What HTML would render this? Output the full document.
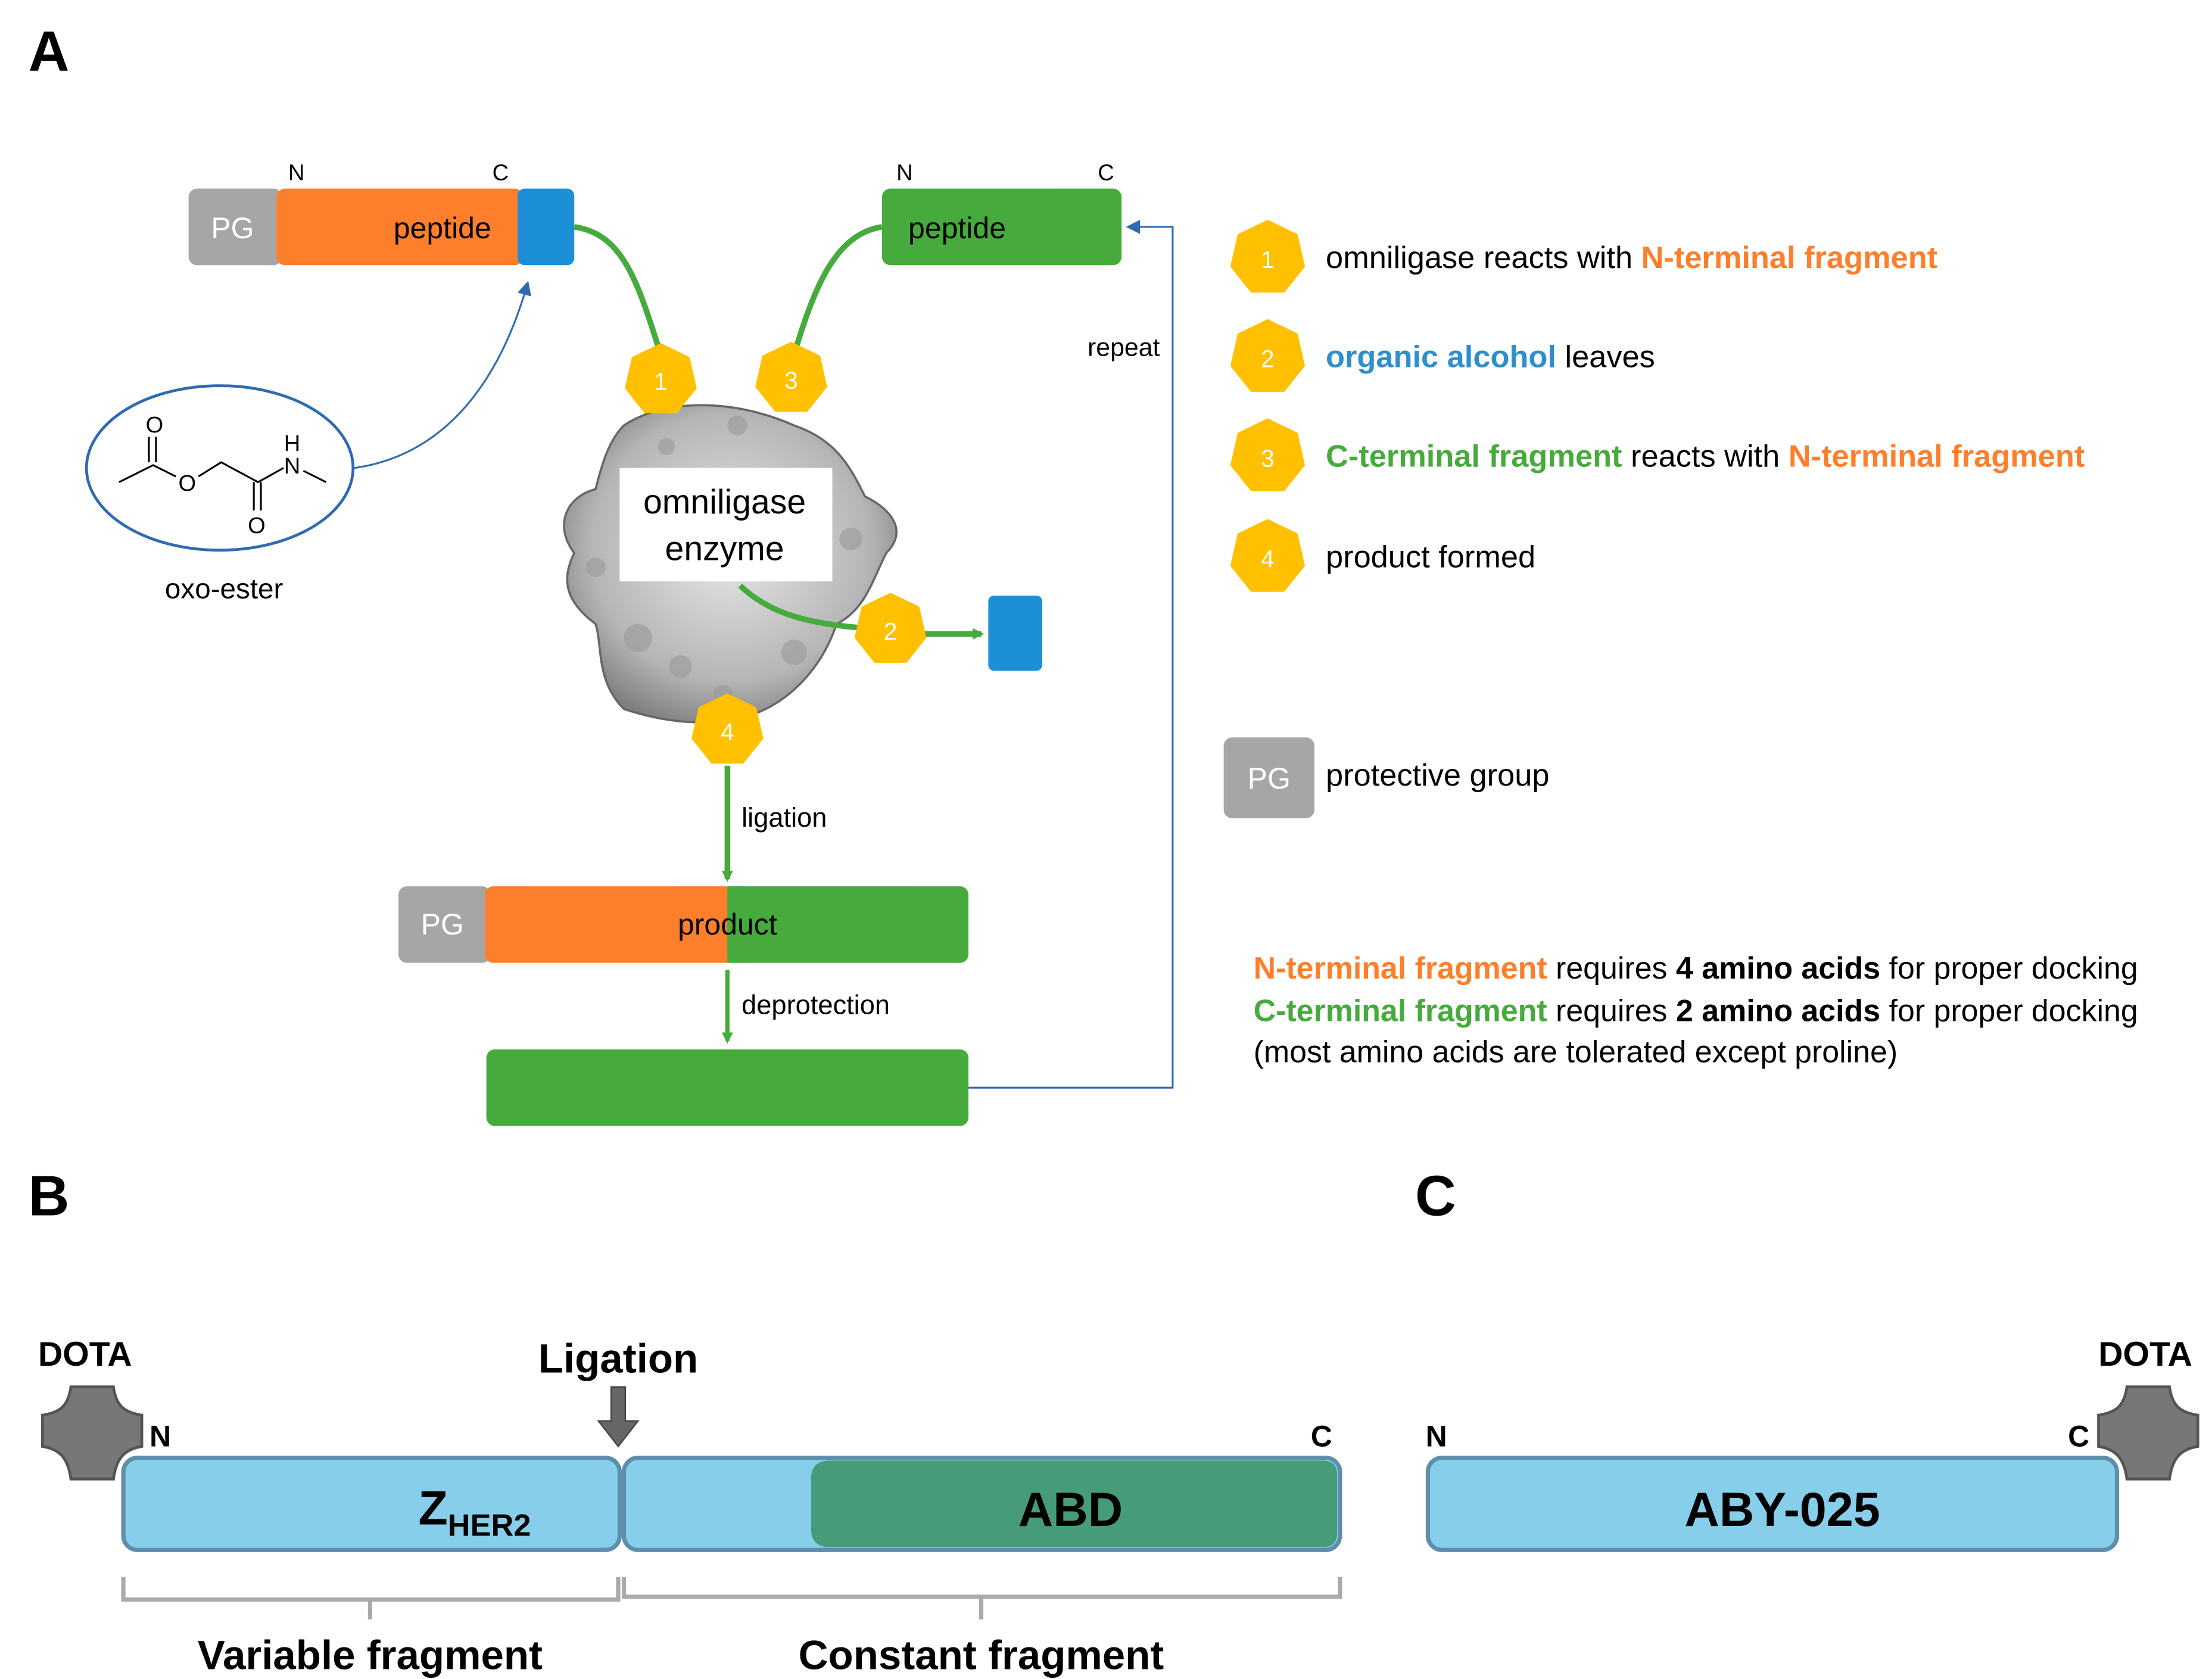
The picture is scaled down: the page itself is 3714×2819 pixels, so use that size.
<!DOCTYPE html>
<html><head><meta charset="utf-8"><style>
html,body{margin:0;padding:0;background:#fff}
svg{display:block}
text{font-family:"Liberation Sans",sans-serif}
</style></head><body>
<svg width="3714" height="2819" viewBox="0 0 1560 1184" preserveAspectRatio="none" xmlns="http://www.w3.org/2000/svg">
<defs>
<polygon id="hep" points="0,-1 0.782,-0.623 0.975,0.223 0.434,0.901 -0.434,0.901 -0.975,0.223 -0.782,-0.623" fill="#ffc000"/>
<radialGradient id="eg" cx="0.5" cy="0.45" r="0.6"><stop offset="0" stop-color="#e8e8e8"/><stop offset="0.7" stop-color="#b5b5b5"/><stop offset="1" stop-color="#7a7a7a"/></radialGradient>
<marker id="ga" markerWidth="8" markerHeight="8" refX="6" refY="4" orient="auto" markerUnits="userSpaceOnUse"><path d="M0,0 L8,4 L0,8 z" fill="#46ab3c"/></marker>
<marker id="ba" markerWidth="10" markerHeight="10" refX="8" refY="5" orient="auto" markerUnits="userSpaceOnUse"><path d="M0,0 L10,5 L0,10 z" fill="#2e6bb0"/></marker>
</defs>

<text x="20" y="50" font-size="40" font-weight="bold">A</text>
<text x="20" y="857" font-size="40" font-weight="bold">B</text>
<text x="998" y="857" font-size="40" font-weight="bold">C</text>

<rect x="133" y="133" width="66" height="54" rx="6" fill="#a6a6a6"/>
<rect x="195" y="133" width="174" height="54" rx="6" fill="#fd7f2b"/>
<rect x="365" y="133" width="40" height="54" rx="5" fill="#1c8fd6"/>
<text x="164" y="168" font-size="21" fill="#fff" text-anchor="middle">PG</text>
<text x="312" y="168" font-size="21" text-anchor="middle">peptide</text>
<text x="209" y="127" font-size="16" text-anchor="middle">N</text>
<text x="353" y="127" font-size="16" text-anchor="middle">C</text>

<rect x="622" y="133" width="169" height="54" rx="6" fill="#46ab3c"/>
<text x="675" y="168" font-size="21" text-anchor="middle">peptide</text>
<text x="638" y="127" font-size="16" text-anchor="middle">N</text>
<text x="780" y="127" font-size="16" text-anchor="middle">C</text>

<path d="M405,160 C440,165 450,200 466,250" fill="none" stroke="#46ab3c" stroke-width="4"/>
<path d="M622,160 C590,165 575,200 560,250" fill="none" stroke="#46ab3c" stroke-width="4"/>

<path d="M440,300 C470,280 520,282 560,300 C590,310 600,330 610,350 C630,360 640,375 625,390 C615,410 610,430 590,440 C580,470 560,490 540,500 C510,515 470,510 440,500 C420,480 425,455 420,440 C400,425 395,410 405,390 C390,370 400,350 420,345 C425,325 430,310 440,300 z" fill="url(#eg)" stroke="#666" stroke-width="1.5"/>
<g fill="#9a9a9a" opacity="0.6">
<circle cx="450" cy="450" r="10"/><circle cx="480" cy="470" r="8"/><circle cx="560" cy="460" r="9"/><circle cx="420" cy="400" r="7"/><circle cx="600" cy="380" r="8"/><circle cx="520" cy="300" r="7"/><circle cx="470" cy="315" r="6"/><circle cx="510" cy="490" r="7"/>
</g>
<rect x="437" y="330" width="150" height="80" fill="#fff"/>
<text x="511" y="362" font-size="24" text-anchor="middle">omniligase</text>
<text x="511" y="395" font-size="24" text-anchor="middle">enzyme</text>

<path d="M522,413 C545,435 575,440 610,443" fill="none" stroke="#46ab3c" stroke-width="4"/>
<line x1="640" y1="447" x2="692" y2="447" stroke="#46ab3c" stroke-width="4" marker-end="url(#ga)"/>
<rect x="697" y="420" width="38" height="53" rx="4" fill="#1c8fd6"/>

<use href="#hep" transform="translate(466,268) scale(26)"/>
<use href="#hep" transform="translate(558,267) scale(26)"/>
<use href="#hep" transform="translate(628,444) scale(26)"/>
<use href="#hep" transform="translate(513,515) scale(26)"/>
<g font-size="17" fill="#fff" text-anchor="middle">
<text x="466" y="275">1</text><text x="558" y="274">3</text><text x="628" y="451">2</text><text x="513" y="522">4</text>
</g>

<ellipse cx="155" cy="330" rx="94" ry="58" fill="none" stroke="#2e6bb0" stroke-width="2"/>
<g stroke="#000" stroke-width="1.3" fill="none">
<path d="M84,340 L108,328 L124,336"/>
<path d="M105,308 L105,326 M110,308 L110,326"/>
<path d="M140,336 L156,326 L182,340 L200,330"/>
<path d="M179,340 L179,360 M184,340 L184,360"/>
<path d="M214,332 L230,340"/>
</g>
<text x="109" y="305" font-size="16" text-anchor="middle">O</text>
<text x="132" y="346" font-size="16" text-anchor="middle">O</text>
<text x="181" y="376" font-size="16" text-anchor="middle">O</text>
<text x="206" y="318" font-size="16" text-anchor="middle">H</text>
<text x="206" y="334" font-size="16" text-anchor="middle">N</text>
<text x="158" y="422" font-size="20" text-anchor="middle">oxo-ester</text>
<path d="M250,330 C320,320 355,260 372,200" fill="none" stroke="#2e6bb0" stroke-width="1.3" marker-end="url(#ba)"/>

<line x1="513" y1="540" x2="513" y2="620" stroke="#46ab3c" stroke-width="4" marker-end="url(#ga)"/>
<text x="523" y="583" font-size="19">ligation</text>

<rect x="281" y="625" width="65" height="54" rx="6" fill="#a6a6a6"/>
<rect x="342" y="625" width="176" height="54" rx="6" fill="#fd7f2b"/>
<rect x="513" y="625" width="170" height="54" rx="6" fill="#46ab3c"/>
<rect x="513" y="625" width="10" height="54" fill="#46ab3c"/>
<text x="312" y="659" font-size="21" fill="#fff" text-anchor="middle">PG</text>
<text x="513" y="659" font-size="21" text-anchor="middle">product</text>

<line x1="513" y1="684" x2="513" y2="734" stroke="#46ab3c" stroke-width="3" marker-end="url(#ga)"/>
<text x="523" y="715" font-size="19">deprotection</text>
<rect x="343" y="740" width="340" height="54" rx="6" fill="#46ab3c"/>

<path d="M683,767 L827,767 L827,160 L796,160" fill="none" stroke="#2e6bb0" stroke-width="1.3" marker-end="url(#ba)"/>
<text x="818" y="251" font-size="18" text-anchor="end">repeat</text>

<use href="#hep" transform="translate(894,182) scale(27)"/>
<use href="#hep" transform="translate(894,252) scale(27)"/>
<use href="#hep" transform="translate(894,322) scale(27)"/>
<use href="#hep" transform="translate(894,393) scale(27)"/>
<g font-size="17" fill="#fff" text-anchor="middle">
<text x="894" y="189">1</text><text x="894" y="259">2</text><text x="894" y="329">3</text><text x="894" y="400">4</text>
</g>
<g font-size="22">
<text x="935" y="189">omniligase reacts with <tspan fill="#fd7f2b" font-weight="bold">N-terminal fragment</tspan></text>
<text x="935" y="259"><tspan fill="#2e8fce" font-weight="bold">organic alcohol</tspan> leaves</text>
<text x="935" y="329"><tspan fill="#46ab3c" font-weight="bold">C-terminal fragment</tspan> reacts with <tspan fill="#fd7f2b" font-weight="bold">N-terminal fragment</tspan></text>
<text x="935" y="400">product formed</text>
<text x="935" y="554">protective group</text>
</g>
<rect x="863" y="520" width="64" height="57" rx="6" fill="#a6a6a6"/>
<text x="895" y="556" font-size="21" fill="#fff" text-anchor="middle">PG</text>
<g font-size="21.8">
<text x="884" y="690"><tspan fill="#fd7f2b" font-weight="bold">N-terminal fragment</tspan> requires <tspan font-weight="bold">4 amino acids</tspan> for proper docking</text>
<text x="884" y="720"><tspan fill="#46ab3c" font-weight="bold">C-terminal fragment</tspan> requires <tspan font-weight="bold">2 amino acids</tspan> for proper docking</text>
<text x="884" y="749">(most amino acids are tolerated except proline)</text>
</g>

<text x="60" y="963" font-size="24" font-weight="bold" text-anchor="middle">DOTA</text>
<path d="M50,978 L80,978 C82,992 88,996 100,998 L100,1020 C88,1022 82,1028 80,1043 L50,1043 C48,1028 42,1022 30,1020 L30,998 C42,996 48,992 50,978 z" fill="#777" stroke="#555" stroke-width="2"/>
<text x="113" y="1020" font-size="21" font-weight="bold" text-anchor="middle">N</text>
<rect x="87" y="1028" width="350" height="65" rx="10" fill="#87ceeb" stroke="#5d8eab" stroke-width="3"/>
<text x="295" y="1075" font-size="34" font-weight="bold">Z<tspan font-size="22" dy="8">HER2</tspan></text>
<rect x="440" y="1028" width="505" height="65" rx="10" fill="#87ceeb" stroke="#5d8eab" stroke-width="3"/>
<path d="M585,1030 L933,1030 Q943,1030 943,1040 L943,1081 Q943,1091 933,1091 L585,1091 Q572,1091 572,1078 L572,1043 Q572,1030 585,1030 z" fill="#469c78"/>
<text x="755" y="1076" font-size="34" font-weight="bold" text-anchor="middle">ABD</text>
<text x="436" y="968" font-size="29" font-weight="bold" text-anchor="middle">Ligation</text>
<path d="M431,978 L441,978 L441,1002 L450,1002 L436,1020 L422,1002 L431,1002 z" fill="#666" stroke="#444" stroke-width="1"/>
<text x="932" y="1020" font-size="21" font-weight="bold" text-anchor="middle">C</text>
<g fill="none" stroke="#aaa" stroke-width="3">
<path d="M87,1112 L87,1128 L436,1128 L436,1112 M261,1128 L261,1142"/>
<path d="M440,1112 L440,1126 L945,1126 L945,1112 M692,1126 L692,1142"/>
</g>
<text x="261" y="1177" font-size="29" font-weight="bold" text-anchor="middle">Variable fragment</text>
<text x="692" y="1177" font-size="29" font-weight="bold" text-anchor="middle">Constant fragment</text>

<text x="1013" y="1020" font-size="21" font-weight="bold" text-anchor="middle">N</text>
<rect x="1007" y="1028" width="486" height="65" rx="10" fill="#87ceeb" stroke="#5d8eab" stroke-width="3"/>
<text x="1257" y="1076" font-size="34" font-weight="bold" text-anchor="middle">ABY-025</text>
<text x="1466" y="1020" font-size="21" font-weight="bold" text-anchor="middle">C</text>
<text x="1513" y="963" font-size="24" font-weight="bold" text-anchor="middle">DOTA</text>
<path d="M1500,978 L1530,978 C1532,992 1538,996 1550,998 L1550,1020 C1538,1022 1532,1028 1530,1043 L1500,1043 C1498,1028 1492,1022 1480,1020 L1480,998 C1492,996 1498,992 1500,978 z" fill="#777" stroke="#555" stroke-width="2"/>
</svg>
</body></html>
